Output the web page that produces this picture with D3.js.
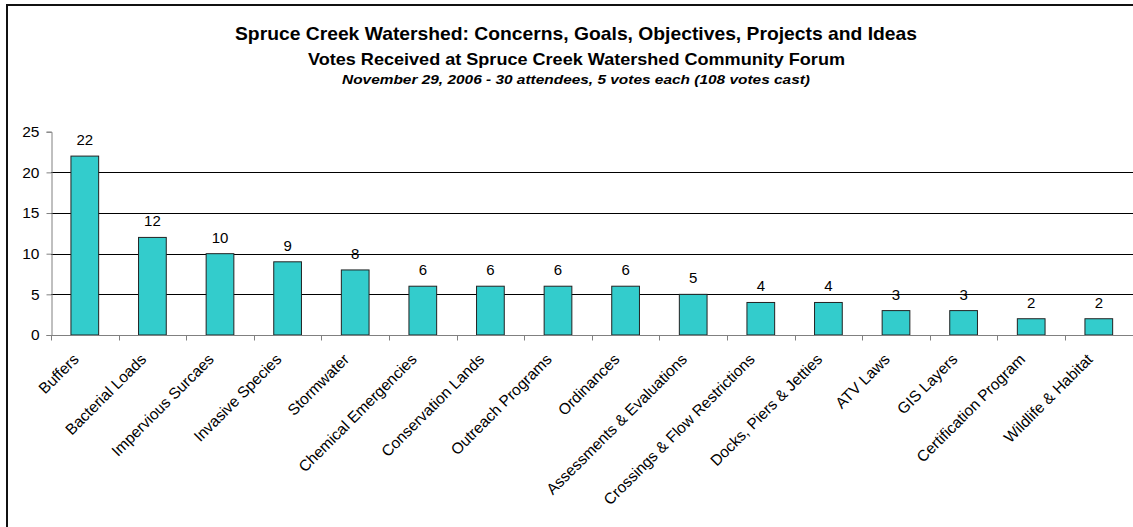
<!DOCTYPE html>
<html>
<head>
<meta charset="utf-8">
<script src="https://cdn.jsdelivr.net/npm/d3@7"></script>
<style>
  body { margin: 0; background: #fff; }
  svg { display: block; font-family: "Liberation Sans", Arial, sans-serif; }
</style>
</head>
<body>
<div id="chart"></div>
<script>
// data
const categories = ["Buffers", "Bacterial Loads", "Impervious Surcaes", "Invasive Species",
  "Stormwater", "Chemical Emergencies", "Conservation Lands", "Outreach Programs",
  "Ordinances", "Assessments & Evaluations", "Crossings & Flow Restrictions",
  "Docks, Piers & Jetties", "ATV Laws", "GIS Layers", "Certification Program", "Wildlife & Habitat"];
const votes = [22, 12, 10, 9, 8, 6, 6, 6, 6, 5, 4, 4, 3, 3, 2, 2];
const yTicks = [0, 5, 10, 15, 20, 25];

const width = 1133, height = 527;
const margin = { top: 131.7, bottom: 192, left: 51, right: 0 };

const svg = d3.select("#chart").append("svg")
  .attr("width", width).attr("height", height);

// outer frame (cut off at right and bottom)
svg.append("rect")
  .attr("x", 7).attr("y", 5)
  .attr("width", width + 10).attr("height", height + 10)
  .attr("fill", "none").attr("stroke", "#111").attr("stroke-width", 2);

// titles
svg.append("text").attr("x", 235).attr("y", 40)
  .attr("font-size", 18.5).attr("font-weight", "bold")
  .attr("textLength", 682).attr("lengthAdjust", "spacingAndGlyphs")
  .text("Spruce Creek Watershed: Concerns, Goals, Objectives, Projects and Ideas");
svg.append("text").attr("x", 308).attr("y", 65)
  .attr("font-size", 16.5).attr("font-weight", "bold")
  .attr("textLength", 537).attr("lengthAdjust", "spacingAndGlyphs")
  .text("Votes Received at Spruce Creek Watershed Community Forum");
svg.append("text").attr("x", 342).attr("y", 84)
  .attr("font-size", 13.5).attr("font-weight", "bold").attr("font-style", "italic")
  .attr("textLength", 468).attr("lengthAdjust", "spacingAndGlyphs")
  .text("November 29, 2006 - 30 attendees, 5 votes each (108 votes cast)");

// scales
const x = d3.scaleBand()
  .domain(categories)
  .range([margin.left, margin.left + 67.6 * categories.length])
  .paddingInner(0.59).paddingOuter(0.295);

const y = d3.scaleLinear()
  .domain([0, 25])
  .range([height - margin.bottom, margin.top]);

// gridlines
svg.append("g")
  .selectAll("line")
  .data(yTicks.filter(d => d > 0 && d < 25))
  .join("line")
  .attr("x1", margin.left).attr("x2", width)
  .attr("y1", d => Math.round(y(d)) + 0.5).attr("y2", d => Math.round(y(d)) + 0.5)
  .attr("stroke", "#000").attr("stroke-width", 1);

// y axis
const yAxis = svg.append("g")
  .attr("transform", `translate(${margin.left + 0.5}, 0)`)
  .call(d3.axisLeft(y).tickValues(yTicks).tickSize(5).tickPadding(7));
yAxis.selectAll("text").attr("font-size", 15.5).attr("fill", "#000")
  .attr("font-family", "Liberation Sans, Arial, sans-serif");
yAxis.selectAll("line, path").attr("stroke", "#808080");

// bars
svg.append("g")
  .selectAll("rect")
  .data(votes)
  .join("rect")
  .attr("x", (d, i) => x(categories[i]))
  .attr("y", d => y(d))
  .attr("width", x.bandwidth())
  .attr("height", d => y(0) - y(d))
  .attr("fill", "#33CCCC")
  .attr("stroke", "#222")
  .attr("stroke-width", 1);

// value labels
svg.append("g")
  .selectAll("text")
  .data(votes)
  .join("text")
  .attr("x", (d, i) => x(categories[i]) + x.bandwidth() / 2)
  .attr("y", d => y(d) - 11)
  .attr("text-anchor", "middle")
  .attr("font-size", 15)
  .text(d => d);

// x axis: baseline and ticks between categories
const base = Math.round(y(0)) + 0.5;
const step = x.step();
svg.append("line")
  .attr("x1", margin.left).attr("x2", width)
  .attr("y1", base).attr("y2", base)
  .attr("stroke", "#808080");
svg.append("g")
  .selectAll("line")
  .data(d3.range(categories.length + 1))
  .join("line")
  .attr("x1", i => Math.round(margin.left + i * step) + 0.5)
  .attr("x2", i => Math.round(margin.left + i * step) + 0.5)
  .attr("y1", base).attr("y2", base + 5)
  .attr("stroke", "#808080");

// category labels
svg.append("g")
  .selectAll("text")
  .data(categories)
  .join("text")
  .attr("transform", d => `translate(${x(d) + x.bandwidth() / 2 - 9}, ${base + 21}) rotate(-45)`)
  .attr("text-anchor", "end")
  .attr("dy", "0.35em")
  .attr("font-size", 15.5)
  .text(d => d);
</script>
</body>
</html>
